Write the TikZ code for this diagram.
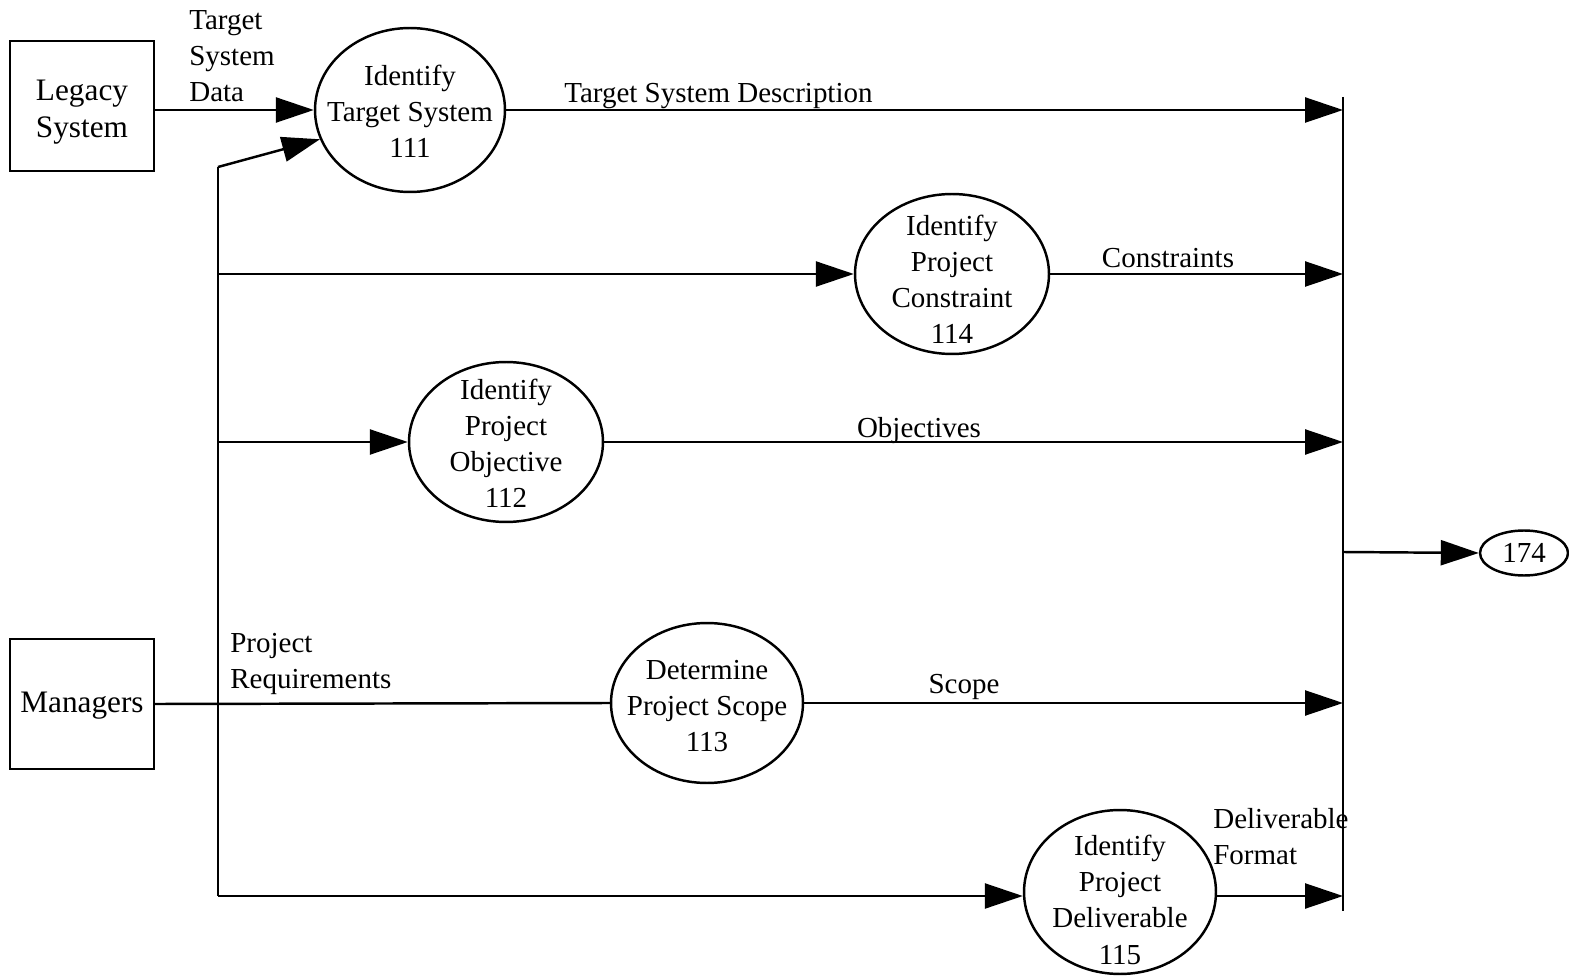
\documentclass[tikz,border=0pt]{standalone}
\usepackage{fontspec}
\setmainfont{Liberation Serif}
\usetikzlibrary{shapes.geometric,arrows.meta}
\begin{document}
\begin{tikzpicture}[x=0.02cm,y=-0.02cm,
  every node/.style={font=\fontsize{16.5}{20.5}\selectfont, inner sep=0pt},
  ent/.style={draw, line width=1.4pt, minimum width=2.88cm, minimum height=2.6cm},
  etext/.style={align=center, font=\fontsize{17.8}{21.6}\selectfont},
  proc/.style={draw, ellipse, line width=1.4pt},
  ptext/.style={align=center},
  lbl/.style={align=left},
  flow/.style={line width=1.4pt, -{Triangle[length=0.76cm,width=0.5cm]}},
  wire/.style={line width=1.4pt}]
\useasboundingbox (0,0) rectangle (1569,976);

% external entities
\node[ent, label={[etext, yshift=-3.5pt]center:Legacy\\System}] (legacy) at (82,106) {};
\node[ent, label={[etext, yshift=-1pt]center:Managers}] (mgr) at (82,704) {};

% processes: fixed-size ellipses with their text set on top
\node[proc, minimum width=3.8cm, minimum height=3.28cm,
  label={[ptext, yshift=-0.5pt]center:Identify\\Target System\\111}] (e111) at (410,110) {};
\node[proc, minimum width=3.88cm, minimum height=3.2cm,
  label={[ptext, yshift=-3pt]center:Identify\\Project\\Constraint\\114}] (e114) at (952,274) {};
\node[proc, minimum width=3.88cm, minimum height=3.2cm,
  label={[ptext, yshift=-1pt]center:Identify\\Project\\Objective\\112}] (e112) at (506,442) {};
\node[proc, minimum width=3.84cm, minimum height=3.2cm,
  label={[ptext, yshift=-2pt]center:Determine\\Project Scope\\113}] (e113) at (707,703) {};
\node[proc, minimum width=3.84cm, minimum height=3.28cm,
  label={[ptext, yshift=-4.5pt]center:Identify\\Project\\Deliverable\\115}] (e115) at (1120,892) {};
\node[proc, minimum width=1.76cm, minimum height=0.9cm,
  label={[ptext]center:174}] (e174) at (1524,553) {};

% collector bar and distribution spine
\coordinate (barTop) at (1343,97);
\coordinate (barBot) at (1343,911);
\coordinate (barMid) at (1343,552);
\coordinate (spineTop) at (218,167);
\coordinate (spineBot) at (218,896);
\draw[wire] (barTop) -- (barBot);
\draw[wire] (spineTop) -- (spineBot);

% inputs
\draw[flow] (legacy.east |- e111) -- (e111.west);
\draw[flow] (spineTop) -- (e111.198);
\draw[flow] (spineTop |- e114.west) -- (e114.west);
\draw[flow] (spineTop |- e112.west) -- (e112.west);
\draw[wire] (mgr.east) -- (e113.west);
\draw[flow] (spineBot) -- (spineBot -| e115.west);

% outputs
\draw[flow] (e111.east) -- (e111.east -| barTop);
\draw[flow] (e114.east) -- (e114.east -| barTop);
\draw[flow] (e112.east) -- (e112.east -| barTop);
\draw[flow] (e113.east) -- (e113.east -| barTop);
\draw[flow] (spineBot -| e115.east) -- (spineBot -| barTop);
\draw[flow] (barMid) -- (e174.west);

% flow labels
\node[lbl, anchor=north west] (tsd) at (189,10) {Target\\System\\Data};
\node[anchor=west] (desc) at (564,96) {Target System Description};
\node (cons) at (1168,258) {Constraints};
\node (obj) at (919,431) {Objectives};
\node (scope) at (964,687) {Scope};
\node[lbl, anchor=north west] (req) at (230,633) {Project\\Requirements};
\node[lbl, anchor=north west] (dfmt) at (1213,808) {Deliverable\\Format};
\end{tikzpicture}
\end{document}
